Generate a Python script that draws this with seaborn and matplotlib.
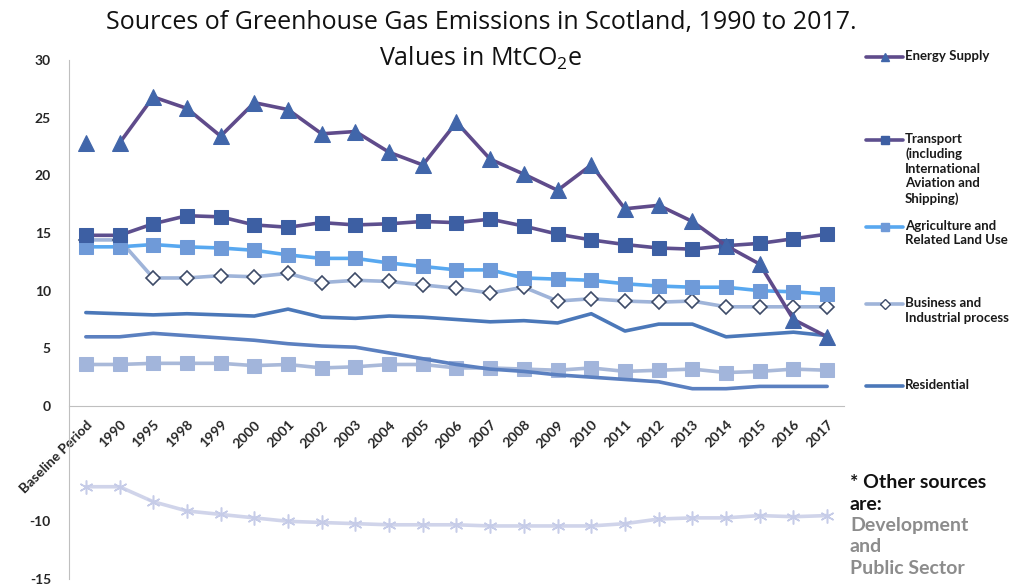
import matplotlib
matplotlib.use("Agg")
import matplotlib.pyplot as plt
import seaborn as sns
import numpy as np
import pandas as pd
from matplotlib.lines import Line2D

categories = ["Baseline Period", "1990", "1995", "1998", "1999", "2000", "2001", "2002",
              "2003", "2004", "2005", "2006", "2007", "2008", "2009", "2010", "2011",
              "2012", "2013", "2014", "2015", "2016", "2017"]

energy_supply = [22.8, 22.8, 26.8, 25.8, 23.4, 26.3, 25.7, 23.6, 23.8, 22.0, 20.9, 24.6,
                 21.4, 20.1, 18.7, 20.9, 17.1, 17.4, 16.0, 13.9, 12.3, 7.5, 6.0]
transport = [14.8, 14.8, 15.8, 16.5, 16.4, 15.7, 15.5, 15.9, 15.7, 15.8, 16.0, 15.9,
             16.2, 15.6, 14.9, 14.4, 14.0, 13.7, 13.6, 13.9, 14.1, 14.5, 14.9]
agriculture = [13.8, 13.8, 14.0, 13.8, 13.7, 13.5, 13.1, 12.8, 12.8, 12.4, 12.1, 11.8,
               11.8, 11.1, 11.0, 10.9, 10.6, 10.4, 10.3, 10.3, 10.0, 9.9, 9.7]
business = [14.4, 14.4, 11.1, 11.1, 11.3, 11.2, 11.5, 10.7, 10.9, 10.8, 10.5, 10.2,
            9.8, 10.3, 9.1, 9.3, 9.1, 9.0, 9.1, 8.6, 8.6, 8.6, 8.6]
residential = [8.1, 8.0, 7.9, 8.0, 7.9, 7.8, 8.4, 7.7, 7.6, 7.8, 7.7, 7.5,
               7.3, 7.4, 7.2, 8.0, 6.5, 7.1, 7.1, 6.0, 6.2, 6.4, 6.1]
waste = [6.0, 6.0, 6.3, 6.1, 5.9, 5.7, 5.4, 5.2, 5.1, 4.6, 4.1, 3.6,
         3.2, 3.0, 2.7, 2.5, 2.3, 2.1, 1.5, 1.5, 1.7, 1.7, 1.7]
other_small = [3.6, 3.6, 3.7, 3.7, 3.7, 3.5, 3.6, 3.3, 3.4, 3.6, 3.6, 3.3,
               3.3, 3.2, 3.1, 3.3, 3.0, 3.1, 3.2, 2.9, 3.0, 3.2, 3.1]
land_use = [-7.0, -7.0, -8.3, -9.1, -9.4, -9.7, -10.0, -10.1, -10.2, -10.3, -10.3, -10.3,
            -10.4, -10.4, -10.4, -10.4, -10.2, -9.8, -9.7, -9.7, -9.5, -9.6, -9.5]

W, H = 1009, 585
fig = plt.figure(figsize=(W / 100, H / 100), dpi=100)
sns.set_style("white")
plt.rcParams["font.family"] = ["Lato", "DejaVu Sans"]

ax = fig.add_axes([69 / W, 1 - 579 / H, (844 - 69) / W, (579 - 60) / H])
idx = np.arange(len(categories))

def draw(vals, color, x=idx, **kw):
    df = pd.DataFrame({"x": x, "y": vals})
    sns.lineplot(data=df, x="x", y="y", ax=ax, color=color, sort=False,
                 estimator=None, linewidth=2.6, **kw)

# negative series
draw(land_use, "#d0d4ea", marker=(6, 2, 0), markersize=10,
     markeredgecolor="#c6cce8", markeredgewidth=1.1)
# small squares series
draw(other_small, "#a9b9d9", marker="s", markersize=10,
     markerfacecolor="#a2b5db", markeredgecolor="#a2b5db")
# declining plain line
draw(waste, "#5b80c0")
# residential
draw(residential, "#4b78b9")
# business
draw(business, "#9fb4d9", marker="D", markersize=7.5,
     markerfacecolor="white", markeredgecolor="#3d4b68", markeredgewidth=1.2)
# agriculture
draw(agriculture, "#58a8f0", marker="s", markersize=10,
     markerfacecolor="#6f9ad8", markeredgecolor="#6f9ad8")
# transport
draw(transport, "#5d4f8e", marker="s", markersize=10,
     markerfacecolor="#3d5fa3", markeredgecolor="#3d5fa3")
# energy supply (baseline not joined)
draw(energy_supply[1:], "#5f4b8b", x=idx[1:], marker="^", markersize=11,
     markerfacecolor="#4166aa", markeredgecolor="#4166aa")
draw(energy_supply[:1], "#5f4b8b", x=idx[:1], marker="^", markersize=11,
     markerfacecolor="#4166aa", markeredgecolor="#4166aa")

ax.set_xlim(-0.5, len(categories) - 0.5)
ax.set_ylim(-15, 30)
ax.set_xlabel("")
ax.set_ylabel("")

for s in ["top", "right"]:
    ax.spines[s].set_visible(False)
ax.spines["left"].set_color("#bfbfbf")
ax.spines["bottom"].set_color("#bfbfbf")
ax.spines["bottom"].set_position(("data", 0))

yt = [-15, -10, -5, 0, 5, 10, 15, 20, 25, 30]
ax.set_yticks(yt)
ax.set_yticklabels([("" if v == -5 else str(v)) for v in yt], fontweight="bold",
                   fontsize=10)
ax.tick_params(axis="y", length=5, color="#bfbfbf", direction="out", pad=8)

ax.set_xticks(idx)
ax.set_xticklabels(categories, rotation=45, ha="right", rotation_mode="anchor",
                   fontweight="bold", fontsize=10)
ax.tick_params(axis="x", which="major", length=0, pad=9)
ax.set_xticks(np.arange(-0.5, len(categories)), minor=True)
ax.tick_params(axis="x", which="minor", length=5, color="#bfbfbf", direction="out")

tfont = ["Open Sans", "DejaVu Sans"]
fig.text(481 / W, 1 - 22 / H, "Sources of Greenhouse Gas Emissions in Scotland, 1990 to 2017.",
         ha="center", va="center", fontsize=18, family=tfont, color="#111111")
fig.text(481 / W, 1 - 58 / H, "Values in MtCO$_\\mathregular{2}$e",
         ha="center", va="center", fontsize=18, family=tfont, color="#111111")

# legend
tf = fig.transFigure
leg = [
    ("Energy Supply", 57, "#5f4b8b", "^", "#4166aa", "#4166aa"),
    ("Transport\n(including\nInternational\nAviation and\nShipping)", 140, "#5d4f8e", "s", "#3d5fa3", "#3d5fa3"),
    ("Agriculture and\nRelated Land Use", 227, "#58a8f0", "s", "#6f9ad8", "#6f9ad8"),
    ("Business and\nIndustrial process", 304, "#9fb4d9", "D", "white", "#3d4b68"),
    ("Residential", 386, "#4b78b9", None, None, None),
]
for text, y, lc, m, mfc, mec in leg:
    fy = 1 - y / H
    fig.add_artist(Line2D([866 / W, 903 / W], [fy, fy], transform=tf, color=lc, linewidth=2.6))
    if m is not None:
        fig.add_artist(Line2D([884.5 / W], [fy], transform=tf, marker=m,
                              markersize=6 if m != "D" else 5, markerfacecolor=mfc,
                              markeredgecolor=mec, linestyle="none"))
    fig.text(905 / W, fy + 7 / H, text, ha="left", va="top", fontsize=9.5,
             fontweight="bold", linespacing=1.25, color="#1a1a1a")

note_dark = ["* Other sources", "are:"]
note_gray = ["Development", "and", "Public Sector"]
for t, y in zip(note_dark, [482, 505]):
    fig.text(850 / W, 1 - y / H, t, ha="left", va="center", fontsize=14,
             fontweight="bold", color="#111111")
for t, y in zip(note_gray, [525, 547, 568]):
    fig.text(850 / W, 1 - y / H, t, ha="left", va="center", fontsize=14,
             fontweight="bold", color="#8c8c8c")

fig.savefig("out.png", dpi=100)
